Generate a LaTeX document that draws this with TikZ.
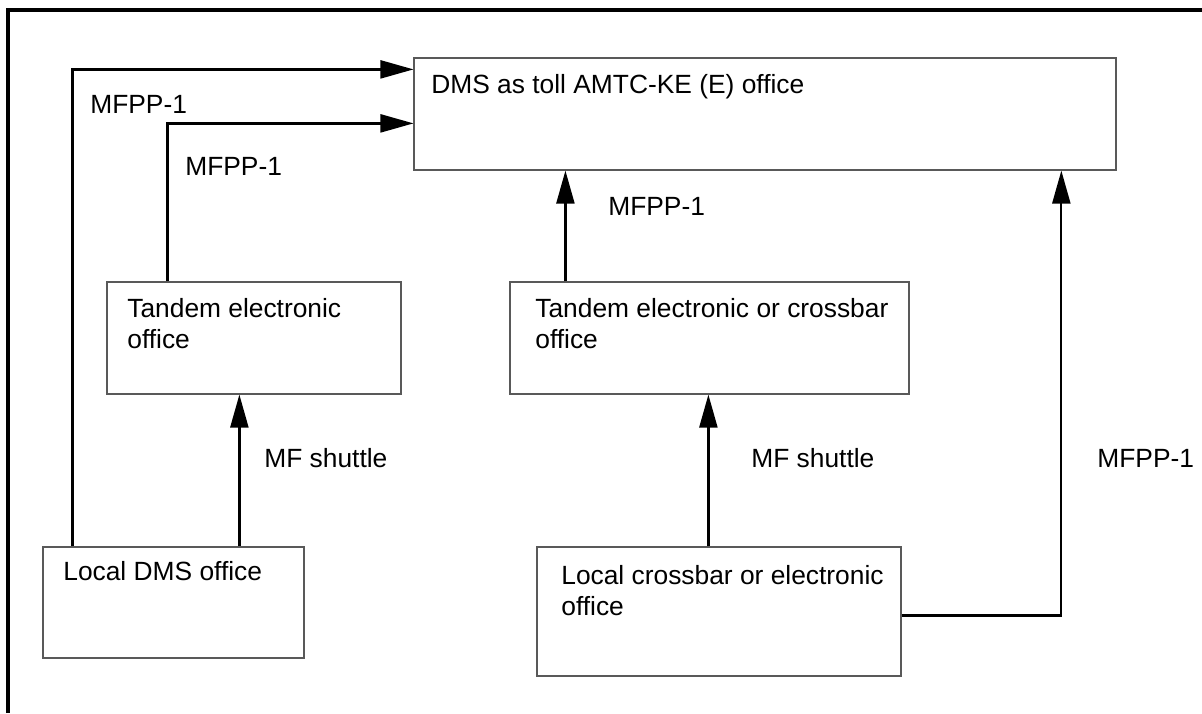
\documentclass[tikz,border=0pt]{standalone}
\usepackage{fontspec}
\setmainfont{Liberation Sans}
\usetikzlibrary{arrows.meta}

\begin{document}
\begin{tikzpicture}[x=0.02cm, y=-0.02cm,
    box/.style={draw=black!65, line width=0.7pt, inner sep=0pt},
    txt/.style={inner sep=0pt, anchor=base west, align=left, font=\fontsize{15}{17.6}\selectfont},
    link/.style={line width=1.3pt, -{Triangle[length=0.66cm, width=0.36cm]}},
    frame/.style={line width=2.2pt}]
    \useasboundingbox (0,0) rectangle (1202,713);
    \draw[frame] (8,713) |- (1202,10);

    \node[box, minimum width=14.04cm, minimum height=2.24cm] (toll) at (765,114) {};
    \node[box, minimum width=5.88cm, minimum height=2.24cm] (tandemE) at (254,338) {};
    \node[box, minimum width=7.98cm, minimum height=2.24cm] (tandemX) at (709.5,338) {};
    \node[box, minimum width=5.22cm, minimum height=2.22cm] (localD) at (173.5,602.5) {};
    \node[box, minimum width=7.28cm, minimum height=2.58cm] (localX) at (719,611.5) {};

    \node[txt] (tolltxt) at (431,93) {DMS as toll AMTC-KE (E) office};
    \node[txt] (tandemEtxt) at (127,348) {Tandem electronic\\office};
    \node[txt] (tandemXtxt) at (535,348) {Tandem electronic or crossbar\\office};
    \node[txt] (localDtxt) at (63,580) {Local DMS office};
    \node[txt] (localXtxt) at (561,615) {Local crossbar or electronic\\office};

    \node[txt] (mfpp1) at (90,113) {MFPP-1};
    \node[txt] (mfpp2) at (185,175) {MFPP-1};
    \node[txt] (mfpp3) at (608,215) {MFPP-1};
    \node[txt] (mfpp4) at (1097,467) {MFPP-1};
    \node[txt] (shuttle1) at (264,467) {MF shuttle};
    \node[txt] (shuttle2) at (751,467) {MF shuttle};

    \draw[link] ([xshift=0.6cm]localD.north west) |- ([yshift=-0.24cm]toll.north west);
    \draw[link] ([xshift=1.22cm]tandemE.north west) |- ([yshift=-1.32cm]toll.north west);
    \draw[link] ([xshift=1.12cm]tandemX.north west) -- ([xshift=1.12cm]tandemX.north west |- toll.south);
    \draw[link] ([xshift=3.94cm]localD.north west) -- ([xshift=3.94cm]localD.north west |- tandemE.south);
    \draw[link] ([xshift=3.44cm]localX.north west) -- ([xshift=3.44cm]localX.north west |- tandemX.south);
    \draw[link] ([yshift=-1.38cm]localX.north east) -| ([xshift=12.96cm]toll.south west);
\end{tikzpicture}
\end{document}
